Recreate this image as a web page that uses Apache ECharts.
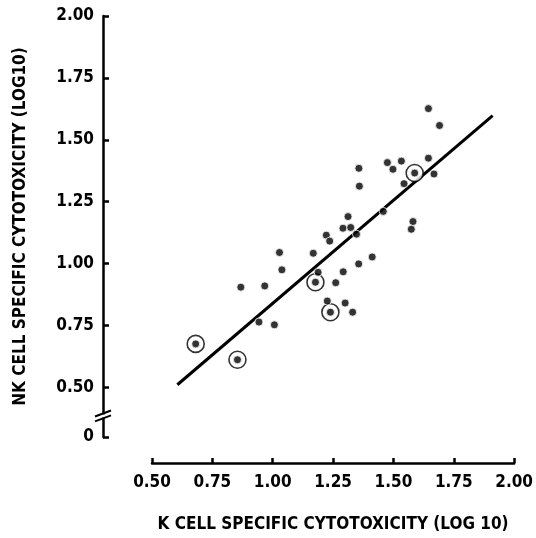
<!DOCTYPE html>
<html>
<head>
<meta charset="utf-8">
<script src="https://cdn.jsdelivr.net/npm/echarts@6/dist/echarts.min.js"></script>
<style>
  html, body { margin: 0; padding: 0; background: #fff; overflow: hidden; }
  #chart { width: 100vw; height: 100vh; }
</style>
</head>
<body>
<div id="chart"></div>
<script>
// K cell vs NK cell specific cytotoxicity (log10)
const dotX = [1.645, 1.691, 1.475, 1.533, 1.498, 1.645, 1.668, 1.544, 1.357, 1.359,
  1.458, 1.581, 1.574, 1.312, 1.291, 1.323, 1.347, 1.222, 1.236, 1.028,
  1.168, 1.412, 1.356, 1.038, 1.188, 1.292, 1.261, 0.868, 0.967, 1.226,
  1.300, 1.331, 0.943, 1.007]
const dotY = [1.626, 1.558, 1.408, 1.414, 1.381, 1.426, 1.362, 1.323, 1.385, 1.313,
  1.211, 1.170, 1.139, 1.190, 1.143, 1.146, 1.119, 1.115, 1.091, 1.045,
  1.042, 1.027, 0.999, 0.975, 0.965, 0.967, 0.923, 0.905, 0.910, 0.849,
  0.841, 0.804, 0.764, 0.753]
// circled points
const ringX = [1.588, 1.177, 1.239, 0.681, 0.854]
const ringY = [1.366, 0.925, 0.804, 0.676, 0.612]
// regression line end points
const fitX = [0.605, 1.911]
const fitY = [0.511, 1.598]

const xTicks = [0.5, 0.75, 1.0, 1.25, 1.5, 1.75, 2.0]
const yTicks = [0.3, 0.5, 0.75, 1.0, 1.25, 1.5, 1.75, 2.0]
const yZero = 0.3

const FONT = '"Liberation Sans Narrow", "DejaVu Sans Condensed", sans-serif'
const Y_OFFSET = 49

const chart = echarts.init(document.getElementById('chart'))

chart.setOption({
  backgroundColor: '#fff',
  animation: false,
  grid: { left: 152, right: 19, top: 16, bottom: 97 },
  xAxis: {
    type: 'value',
    min: 0.5,
    max: 2.0,
    interval: 0.25,
    offset: 26,
    splitLine: { show: false },
    axisLine: { lineStyle: { color: '#000', width: 2.5 } },
    axisTick: { inside: true, length: 5, lineStyle: { color: '#000', width: 2.5 } },
    axisLabel: {
      color: '#000', fontFamily: FONT, fontWeight: 'bold', fontSize: 17, margin: 11,
      formatter: (v) => v.toFixed(2),
    },
    name: 'K CELL SPECIFIC CYTOTOXICITY (LOG 10)',
    nameLocation: 'middle',
    nameGap: 53,
    nameTextStyle: { color: '#000', fontFamily: FONT, fontWeight: 'bold', fontSize: 17 },
  },
  yAxis: {
    type: 'value',
    min: yZero,
    max: 2.0,
    offset: Y_OFFSET,
    splitLine: { show: false },
    axisLine: { onZero: false, lineStyle: { color: '#000', width: 2.5 } },
    axisTick: {
      inside: true, length: 6, customValues: yTicks,
      lineStyle: { color: '#000', width: 2.5 },
    },
    axisLabel: {
      color: '#000', fontFamily: FONT, fontWeight: 'bold', fontSize: 17, margin: 9,
      customValues: yTicks,
      formatter: (v) => (Math.abs(v - yZero) < 1e-6 ? '0' : v.toFixed(2)),
    },
    name: 'NK CELL SPECIFIC CYTOTOXICITY (LOG10)',
    nameLocation: 'middle',
    nameRotate: 90,
    nameGap: 74,
    nameTextStyle: { color: '#000', fontFamily: FONT, fontWeight: 'bold', fontSize: 17 },
  },
  series: [
    {
      type: 'line',
      data: fitX.map((x, i) => [x, fitY[i]]),
      symbol: 'none',
      lineStyle: { color: '#000', width: 3 },
      z: 1,
    },
    {
      type: 'scatter',
      data: ringX.map((x, i) => [x, ringY[i]]),
      symbolSize: 17,
      itemStyle: { color: '#fff', borderColor: '#000', borderWidth: 1.6 },
      z: 2,
    },
    {
      type: 'scatter',
      data: dotX.map((x, i) => [x, dotY[i]]).concat(ringX.map((x, i) => [x, ringY[i]])),
      symbolSize: 8,
      itemStyle: { color: '#000', borderColor: '#fff', borderWidth: 1 },
      z: 3,
    },
  ],
})

// axis break mark on the y axis
function drawBreak() {
  const ax = chart.convertToPixel({ xAxisIndex: 0 }, 0.5) - Y_OFFSET
  const y1 = chart.convertToPixel({ yAxisIndex: 0 }, 0.395)
  const y2 = chart.convertToPixel({ yAxisIndex: 0 }, 0.375)
  chart.setOption({
    graphic: [
      { type: 'rect', shape: { x: ax - 3, y: y1 + 1, width: 6, height: y2 - y1 - 2 }, style: { fill: '#fff' }, z: 10 },
      { type: 'line', shape: { x1: ax - 8, y1: y1 + 3, x2: ax + 8, y2: y1 - 3 }, style: { stroke: '#000', lineWidth: 2 }, z: 11 },
      { type: 'line', shape: { x1: ax - 8, y1: y2 + 3, x2: ax + 8, y2: y2 - 3 }, style: { stroke: '#000', lineWidth: 2 }, z: 11 },
    ],
  })
}
drawBreak()
window.addEventListener('resize', () => { chart.resize(); drawBreak() })
</script>
</body>
</html>
